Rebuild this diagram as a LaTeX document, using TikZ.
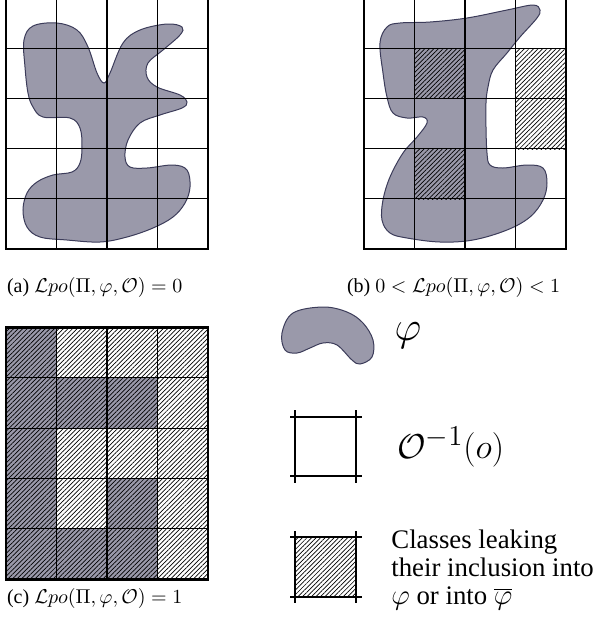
\documentclass[tikz,border=0pt]{standalone}
\usepackage{fontspec}
\setmainfont{Liberation Serif}
\usepackage{xcolor}
\usetikzlibrary{patterns.meta}
\definecolor{Blob}{HTML}{9A99AA}
\definecolor{BlobEdge}{HTML}{3C3C5A}

\begin{document}
\begin{tikzpicture}[x=0.5pt,y=-0.5pt,
  blob/.style={fill=Blob,draw=BlobEdge,line width=0.5pt},
  cellline/.style={black,line width=0.55pt},
  border/.style={black,line width=1.3pt},
  hatch/.style={pattern={Lines[angle=45,distance=1.6pt,line width=0.35pt]}},
  subcap/.style={font=\fontsize{10}{12}\selectfont,anchor=west}]
  \useasboundingbox (0,0) rectangle (603,623);

  % (a) one shape, every class on a side
  \draw[blob] plot[smooth cycle,tension=0.6] coordinates {(24,40) (33,26) (57,23) (77,30) (88,47) (97,73) (104,83) (110,73) (123,43) (140,30) (167,24) (182,27) (180,35) (163,50) (148,63) (147,77) (157,87) (180,95) (187,102) (182,108) (160,115) (140,123) (128,140) (125,157) (130,167) (147,168) (173,165) (187,170) (190,187) (185,203) (173,217) (153,228) (127,237) (100,242) (67,240) (40,237) (27,227) (23,210) (27,193) (37,182) (53,175) (72,172) (80,163) (82,147) (80,128) (70,118) (43,117) (33,107) (28,93) (25,67)};
  \foreach \i in {1,2,3} \draw[cellline] ({6+\i*50.5},-2) -- ({6+\i*50.5},249);
  \foreach \j in {1,...,4} \draw[cellline] (6,{249-\j*50.2}) -- (208,{249-\j*50.2});
  \draw[border] (6,-4) -- (6,249) -- (208,249) -- (208,-4);
  \node[subcap] (capA) at (0,287) {(a) $\mathcal{L}po(\Pi,\varphi,\mathcal{O}) = 0$};

  % (b) some classes leak
  \draw[blob] plot[smooth cycle,tension=0.6] coordinates {(380,43) (387,27) (400,23) (430,22) (467,18) (507,10) (533,5) (540,10) (537,18) (520,37) (507,53) (493,70) (488,87) (486,103) (486,127) (487,153) (490,165) (503,168) (527,165) (543,168) (547,183) (543,200) (530,217) (507,230) (473,240) (440,242) (407,238) (390,233) (382,220) (383,200) (390,177) (403,153) (417,137) (427,123) (423,117) (407,118) (393,113) (387,97) (383,73)};
  \fill[hatch] (414.5,48.4) rectangle (465,98.6);
  \fill[hatch] (414.5,149) rectangle (465,199);
  \fill[hatch] (515.5,48.4) rectangle (566,149);
  \foreach \i in {1,2,3} \draw[cellline] ({364+\i*50.5},-2) -- ({364+\i*50.5},249);
  \foreach \j in {1,...,4} \draw[cellline] (364,{249-\j*50.2}) -- (566,{249-\j*50.2});
  \draw[border] (364,-4) -- (364,249) -- (566,249) -- (566,-4);
  \node[subcap] (capB) at (340,287) {(b) $0 < \mathcal{L}po(\Pi,\varphi,\mathcal{O}) < 1$};

  % (c) every class leaks
  \foreach \i/\j in {0/0,0/1,1/1,2/1,0/2,0/3,2/3,0/4,1/4,2/4}
    \fill[Blob] ({6+\i*50.5},{327.3+\j*50.4}) rectangle ++(50.5,50.4);
  \fill[hatch] (6,327.3) rectangle (208,579.3);
  \foreach \i in {1,2,3} \draw[cellline] ({6+\i*50.5},327.3) -- ({6+\i*50.5},579.3);
  \foreach \j in {1,...,4} \draw[cellline] (6,{327.3+\j*50.4}) -- (208,{327.3+\j*50.4});
  \draw[border] (6,327.3) rectangle (208,579.3);
  \node[subcap] (capC) at (0,598) {(c) $\mathcal{L}po(\Pi,\varphi,\mathcal{O}) = 1$};

  % legend
  \draw[blob] plot[smooth cycle,tension=0.6] coordinates {(282,333) (293,313) (323,307) (347,312) (363,323) (373,340) (372,357) (360,364) (352,360) (337,345) (323,343) (310,348) (297,353) (285,350)};
  \node[font=\fontsize{20}{24}\selectfont] (phi) at (408,336) {$\varphi$};

  \draw[cellline] (290,417) -- (362,417);
  \draw[cellline] (290,476) -- (362,476);
  \draw[cellline] (295,410) -- (295,483);
  \draw[cellline] (356,410) -- (356,483);
  \node[font=\fontsize{19}{23}\selectfont,anchor=west,inner sep=0pt] (obs) at (397,447) {$\mathcal{O}^{-1}(o)$};

  \fill[hatch] (295,537) rectangle (356,597);
  \draw[cellline] (290,537) -- (362,537);
  \draw[cellline] (290,597) -- (362,597);
  \draw[cellline] (295,531) -- (295,603);
  \draw[cellline] (356,531) -- (356,603);
  \node[font=\fontsize{13.4}{14}\selectfont,anchor=west,align=left,inner sep=0pt] (leak) at (391,570)
    {Classes leaking\\their inclusion into\\$\varphi$ or into $\overline{\varphi}$};
\end{tikzpicture}
\end{document}
